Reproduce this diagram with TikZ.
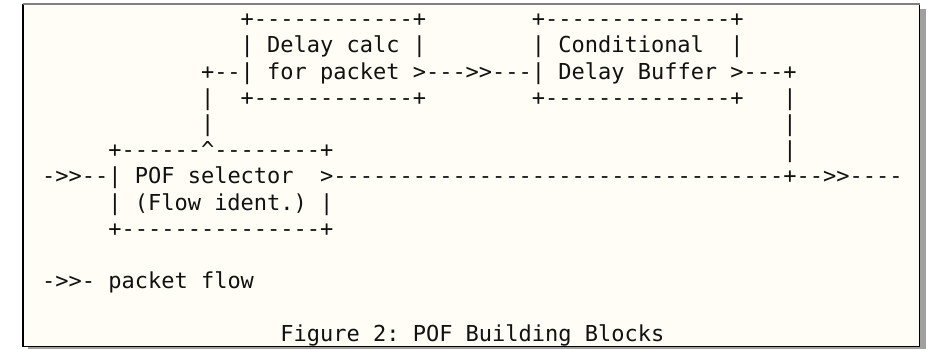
\documentclass[tikz,border=0pt]{standalone}
\usepackage{fontspec}
\setmonofont{DejaVu Sans Mono}
\definecolor{paper}{HTML}{FFFDF5}
\definecolor{shadowgray}{HTML}{A0A0A0}
\definecolor{ink}{HTML}{111111}
\begin{document}
\begin{tikzpicture}[x=0.75pt,y=-0.75pt,
  ascii/.style={inner sep=0pt,outer sep=0pt,anchor=base west,text=ink,
    font=\fontsize{16.49pt}{19pt}\selectfont\ttfamily}]
\useasboundingbox (0,0) rectangle (929,349);
% shadow
\fill[shadowgray] (920,9) rectangle (925.5,349);
\fill[shadowgray] (28,347) rectangle (925.5,349);
% paper
\fill[paper] (23,4) rectangle (919.5,346.5);
\draw[black,line width=1.3pt] (23,4) -- (23,346.5) -- (919.5,346.5) -- (919.5,4);
\draw[gray,line width=1.3pt] (23,4) -- (919.5,4);
% column c left edge: 42.2 + 13.235 c ; row r baseline: 26.7 + 26.2 r
\def\cx#1{\fpeval{42.2+13.235*(#1)}}
\def\ry#1{\fpeval{26.7+26.2*(#1)}}
% row 0
\node[ascii] (dtop) at (\cx{15},\ry{0}) {+------------+};
\node[ascii] (ctop) at (\cx{37},\ry{0}) {+--------------+};
% row 1
\node[ascii] (dl1) at (\cx{15},\ry{1}) {| Delay calc |};
\node[ascii] (cl1) at (\cx{37},\ry{1}) {|~Conditional~~|};
% row 2
\node[ascii] (l2) at (\cx{12},\ry{2}) {+--| for packet >--->>---| Delay Buffer >---+};
% row 3
\node[ascii] (v3a) at (\cx{12},\ry{3}) {|};
\node[ascii] (dbot) at (\cx{15},\ry{3}) {+------------+};
\node[ascii] (cbot) at (\cx{37},\ry{3}) {+--------------+};
\node[ascii] (v3b) at (\cx{56},\ry{3}) {|};
% row 4
\node[ascii] (v4a) at (\cx{12},\ry{4}) {|};
\node[ascii] (v4b) at (\cx{56},\ry{4}) {|};
% row 5
\node[ascii] (ptop) at (\cx{5},\ry{5}) {+------\textasciicircum--------+};
\node[ascii] (v5b) at (\cx{56},\ry{5}) {|};
% row 6
\node[ascii] (main) at (\cx{0},\ry{6}) {->>--|~POF~selector~~>----------------------------------+-->>----};
% row 7
\node[ascii] (pl2) at (\cx{5},\ry{7}) {| (Flow ident.) |};
% row 8
\node[ascii] (pbot) at (\cx{5},\ry{8}) {+---------------+};
% row 10
\node[ascii] (legend) at (\cx{0},\ry{10}) {->>- packet flow};
% row 12
\node[ascii] (caption) at (\cx{18},\ry{12}) {Figure 2: POF Building Blocks};
\end{tikzpicture}
\end{document}
